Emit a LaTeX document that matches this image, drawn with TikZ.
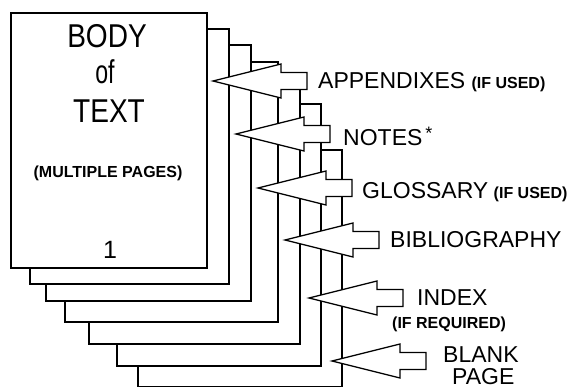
\documentclass[tikz,border=0pt]{standalone}
\usepackage{fontspec}
\setmainfont{Liberation Sans}
\usetikzlibrary{positioning}
\newcommand{\narrowtext}[2][0.85]{\scalebox{#1}[1]{#2}}

\begin{document}
\begin{tikzpicture}[
    x=1pt, y=-1pt,
    sheet/.style={draw=black, fill=white, line width=1.4pt},
    pointer/.style={draw=black, fill=white, line width=1.3pt, line join=miter},
    lbl/.style={font=\fontsize{23}{23}\selectfont, inner sep=0pt, anchor=base west},
    note/.style={font=\fontsize{16}{16}\selectfont\bfseries, inner sep=0pt, anchor=base west},
    big/.style={font=\fontsize{33}{33}\selectfont, inner sep=0pt, anchor=base},
  ]
  \useasboundingbox (0,0) rectangle (569,388);
  % stack of pages, back one first
  \foreach \l/\t/\r/\b in {138/150/342/386.5, 117/104/321/366, 89/80/300/344,
      65/62/278/322, 46/45/251/301, 30/29/229/284, 11/13/207/268}
    \draw[sheet] (\l,\t) rectangle (\r,\b);
  % front page text
  \node[big] (body) at (107,47) {\narrowtext{BODY}};
  \node[big] (of) at (105,83) {\narrowtext[0.7]{of}};
  \node[big] (txt) at (109,122) {\narrowtext{TEXT}};
  \node[note, anchor=base] (mult) at (108,177) {(MULTIPLE PAGES)};
  \node[font=\fontsize{25}{25}\selectfont, inner sep=0pt, anchor=base] (num) at (110,258) {1};
  % block arrows: tip x / tip y
  \foreach \tx/\ty in {213/81, 236/134, 258/188, 285/240, 309/298, 332/361}
    \draw[pointer] (\tx,\ty) -- ++(68,-17) -- ++(0,8.5) -- ++(26,0) -- ++(0,17)
      -- ++(-26,0) -- ++(0,8.5) -- cycle;
  % labels
  \node[lbl] (appx) at (318,88) {APPENDIXES};
  \node[note, right=6pt of appx.base east, anchor=base west] (appxu) {(IF USED)};
  \node[lbl] (notes) at (343,145) {NOTES\hspace{3pt}\raisebox{6pt}{\fontsize{18}{18}\selectfont *}};
  \node[lbl] (gloss) at (362,198) {GLOSSARY};
  \node[note, right=5pt of gloss.base east, anchor=base west] (glossu) {(IF USED)};
  \node[lbl] (biblio) at (390,247) {BIBLIOGRAPHY};
  \node[lbl] (index) at (417,305) {INDEX};
  \node[note] (indexr) at (392,328) {(IF REQUIRED)};
  \node[lbl] (blank) at (443,362) {BLANK};
  \node[lbl] (page) at (452,384) {PAGE};
\end{tikzpicture}
\end{document}
